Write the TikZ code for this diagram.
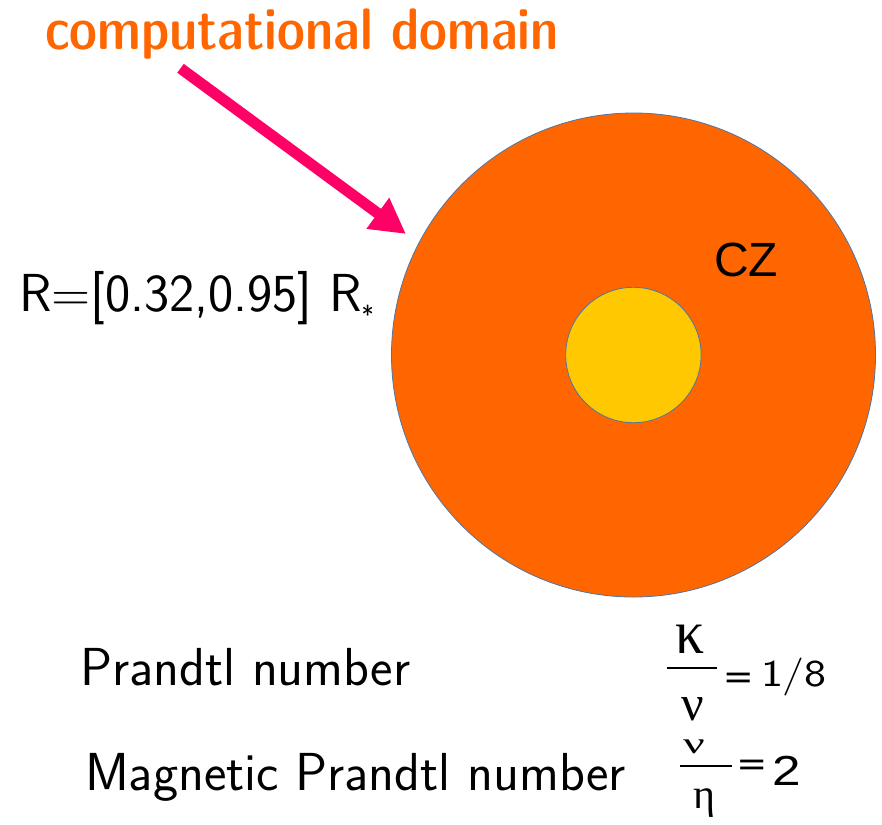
\documentclass[tikz,border=0pt]{standalone}
\usepackage{fontspec}
\usepackage{graphicx}
\newfontfamily\arialf{Liberation Sans}
\newfontfamily\timesf{Liberation Serif}
\usetikzlibrary{arrows.meta}
\definecolor{czorange}{HTML}{FF6600}
\definecolor{coreyellow}{HTML}{FFC800}
\definecolor{arrowpink}{HTML}{FF0066}
\definecolor{rimblue}{HTML}{4A76A8}
\begin{document}
\begin{tikzpicture}[x=1pt,y=-1pt,
  txt/.style={inner sep=0pt, outer sep=0pt, anchor=base west},
  lmsans/.style={font=\sffamily\fontsize{53.5}{60}\selectfont},
  titletxt/.style={font=\sffamily\fontseries{sbc}\fontsize{58.5}{60}\selectfont, text=czorange},
  greek/.style={inner sep=0pt, outer sep=0pt, anchor=base, font=\timesf\fontsize{48}{48}\selectfont},
  eqsign/.style={inner sep=0pt, outer sep=0pt, anchor=center, font=\arialf\bfseries\fontsize{46}{46}\selectfont},
  fracbar/.style={draw=black, line width=2pt},
  zone/.style={circle, inner sep=0pt, outer sep=0pt, draw=rimblue, line width=0.8pt},
  pointer/.style={draw=arrowpink, line width=11pt, -{Triangle[length=35pt,width=36pt]}}
]
\useasboundingbox (0,0) rectangle (882,824);
\fill[white] (0,0) rectangle (882,824);

% shells
\node[zone, fill=czorange, minimum size=484pt] (cz) at (633.5,355) {};
\node[zone, fill=coreyellow, minimum size=135.4pt] (core) at (633.4,355) {};
\node[txt, font=\arialf\fontsize{48}{50}\selectfont] (czlabel) at (714,276.7) {CZ};

% title and arrow
\node[txt, titletxt] (title) at (45,50) {computational domain};
\coordinate (atail) at (180.5,68.3);
\coordinate (atip) at (406,234);
\draw[pointer] (atail) -- (atip);

% radius label
\node[txt, lmsans] (radius) at (19,311.7) {R=[0.32,0.95] R\raisebox{-13pt}{\fontsize{26}{26}\selectfont *}};

% Prandtl numbers
\node[txt, lmsans] (pr) at (80,685) {Prandtl number};
\node[txt, lmsans] (pm) at (85,790) {Magnetic Prandtl number};

% kappa / nu = 1/8
\node[greek, font=\timesf\fontsize{62}{62}\selectfont] (kappa) at (690.5,653.3) {\scalebox{0.93}[1]{κ}};
\node[greek, font=\timesf\fontsize{50}{50}\selectfont] (nua) at (692.5,720) {ν};
\coordinate (barAl) at (666.7,668.3);
\coordinate (barAr) at (716.7,668.3);
\draw[fracbar] (barAl) -- (barAr);
\node[eqsign] (eqa) at (738.3,679.6) {\scalebox{1}[0.56]{=}};
\node[txt, font=\sffamily\fontsize{38}{38}\selectfont] (vala) at (761,686.7) {\scalebox{1.23}[1]{1/8}};

% nu / eta = 2
\node[greek] (nub) at (694,753.3) {\scalebox{1}[0.62]{ν}};
\node[greek, font=\timesf\fontsize{42}{42}\selectfont] (eta) at (704,808) {η};
\coordinate (barBl) at (680,766);
\coordinate (barBr) at (731.7,766);
\draw[fracbar] (barBl) -- (barBr);
\node[eqsign] (eqb) at (751.7,766.7) {\scalebox{1}[0.56]{=}};
\node[txt, font=\arialf\fontsize{42}{42}\selectfont] (valb) at (772,785) {\scalebox{1.22}[1]{2}};
\end{tikzpicture}
\end{document}
